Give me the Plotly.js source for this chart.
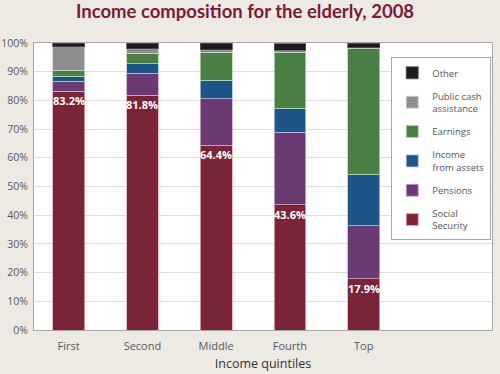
<!DOCTYPE html>
<html>
<head>
<meta charset="utf-8">
<script src="https://cdn.plot.ly/plotly-3.0.1.min.js"></script>
<style>
html,body{margin:0;padding:0;background:#ede9e3;}
#chart{width:500px;height:374px;}
</style>
</head>
<body>
<div id="chart"></div>
<script>
const categories = ["First", "Second", "Middle", "Fourth", "Top"];
const socialSecurity = [83.2, 81.8, 64.4, 43.6, 17.9];
const pensions = [3.4, 7.6, 16.2, 25.3, 18.5];
const incomeFromAssets = [1.9, 3.3, 6.5, 8.3, 17.8];
const earnings = [1.8, 3.7, 9.6, 19.4, 43.8];
const publicCash = [8.4, 1.6, 1.0, 0.8, 0.4];
const other = [1.3, 2.0, 2.3, 2.3, 1.6];
const yTickVals = [0, 10, 20, 30, 40, 50, 60, 70, 80, 90, 100];
const yTickText = ["0%", "10%", "20%", "30%", "40%", "50%", "60%", "70%", "80%", "90%", "100%"];

const series = [
  {name: "Social<br>Security", y: socialSecurity, color: "#7a2438", line: "#e9a9b6"},
  {name: "Pensions", y: pensions, color: "#6c3a73", line: "#c9a6cf"},
  {name: "Income<br>from assets", y: incomeFromAssets, color: "#1e5588", line: "#a9c6e6"},
  {name: "Earnings", y: earnings, color: "#4a7f46", line: "#b6d8a8"},
  {name: "Public cash<br>assistance", y: publicCash, color: "#8e8e8e", line: "#d4d4d4"},
  {name: "Other", y: other, color: "#1b1b1b", line: "#555555"}
];

const traces = series.map((s, i) => ({
  type: "bar",
  x: categories,
  y: s.y,
  name: s.name,
  legendgroup: "g" + i,
  legendrank: 1000 - i,
  width: 0.43,
  marker: {color: s.color, line: {color: s.line, width: 0.8}},
  hoverinfo: "skip"
}));

const annotations = categories.map((c, i) => ({
  x: c, y: socialSecurity[i], xref: "x", yref: "y",
  text: "<b>" + socialSecurity[i].toFixed(1) + "%</b>",
  showarrow: false, yanchor: "top", yshift: 0,
  font: {family: "Open Sans, sans-serif", size: 11, color: "#ffffff"}
}));

const layout = {
  width: 500, height: 374,
  paper_bgcolor: "#ede9e3",
  plot_bgcolor: "#ffffff",
  margin: {l: 34, r: 8, t: 43, b: 44},
  barmode: "stack",
  title: {
    text: "<b>Income composition for the elderly, 2008</b>",
    font: {family: "Lato, sans-serif", size: 18.5, color: "#7a1c37", weight: 900},
    x: 0.49, xanchor: "center", y: 0.968, yanchor: "middle"
  },
  xaxis: {
    type: "category",
    range: [-0.47, 5.74],
    showline: true, mirror: true, linecolor: "#a8a8a8", linewidth: 1,
    showgrid: false, ticks: "outside", ticklen: 6, tickcolor: "rgba(0,0,0,0)",
    tickfont: {family: "Open Sans, sans-serif", size: 11, color: "#5a5a5a"},
    title: {text: "Income quintiles", standoff: 7,
      font: {family: "Open Sans, sans-serif", size: 12.5, color: "#333333"}}
  },
  yaxis: {
    range: [0, 100],
    tickvals: yTickVals, ticktext: yTickText,
    showline: true, mirror: true, linecolor: "#a8a8a8", linewidth: 1,
    gridcolor: "#dedede", gridwidth: 1,
    zeroline: false, ticks: "outside", ticklen: 3, tickcolor: "rgba(0,0,0,0)",
    tickfont: {family: "Open Sans, sans-serif", size: 10.5, color: "#5a5a5a"}
  },
  legend: {
    x: 0.78, xanchor: "left", y: 0.95, yanchor: "top",
    bgcolor: "#ffffff", bordercolor: "#a8a8a8", borderwidth: 1,
    traceorder: "grouped", tracegroupgap: 6,
    font: {family: "Open Sans, sans-serif", size: 9.5, color: "#555555"}
  },
  annotations: annotations
};

Plotly.newPlot("chart", traces, layout, {displayModeBar: false, staticPlot: true});
</script>
</body>
</html>
